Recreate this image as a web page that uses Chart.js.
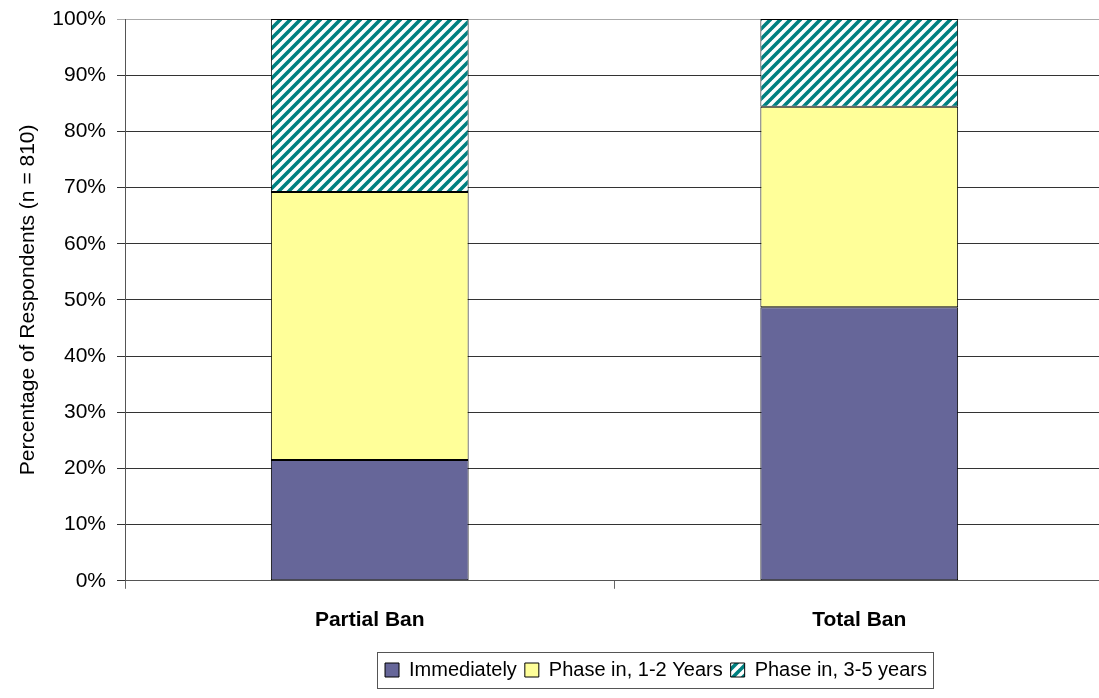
<!DOCTYPE html>
<html>
<head>
<meta charset="utf-8">
<script src="https://cdn.jsdelivr.net/npm/chart.js@4.4.1/dist/chart.umd.min.js"></script>
<style>
    body { margin: 0; background: #fff; overflow: hidden; }
    #wrap { width: 1099px; height: 698px; overflow: hidden; }
</style>
</head>
<body>
<div id="wrap"><canvas id="chart" width="1104" height="698"></canvas></div>
<script>
// Data (percent of respondents)
const categories = ['Partial Ban', 'Total Ban'];
const seriesNames = ['Immediately', 'Phase in, 1-2 Years', 'Phase in, 3-5 years'];
const immediately = [21.5, 48.7];
const phaseIn12 = [47.7, 35.7];
const phaseIn35 = [30.8, 15.6];
const yTickStep = 10;

const textFont = "'Liberation Sans', Arial, sans-serif";

function makeHatch() {
    const s = 10;
    const c = document.createElement('canvas');
    c.width = s;
    c.height = s;
    const g = c.getContext('2d');
    g.fillStyle = '#ffffff';
    g.fillRect(0, 0, s, s);
    g.strokeStyle = '#008080';
    g.lineWidth = 3.6;
    g.beginPath();
    g.moveTo(-1, s + 1); g.lineTo(s + 1, -1);
    g.moveTo(-1, 1); g.lineTo(1, -1);
    g.moveTo(s - 1, s + 1); g.lineTo(s + 1, s - 1);
    g.stroke();
    return g.createPattern(c, 'repeat');
}

// the legend sits right of centre in the original, and has a frame
const legendShift = 104;
const legendFrame = {
    id: 'legendFrame',
    afterUpdate(chart) {
        // runs after the built-in legend plugin has placed its hit boxes
        const lg = chart.legend;
        lg.left += legendShift;
        lg.right += legendShift;
        lg.legendHitBoxes.forEach(b => { b.left += legendShift; });
    },
    afterDraw(chart) {
        const boxes = chart.legend.legendHitBoxes;
        if (!boxes || !boxes.length) return;
        let x0 = Infinity, x1 = -Infinity, y0 = Infinity, y1 = -Infinity;
        boxes.forEach(b => {
            x0 = Math.min(x0, b.left);
            x1 = Math.max(x1, b.left + b.width);
            y0 = Math.min(y0, b.top);
            y1 = Math.max(y1, b.top + b.height);
        });
        const ctx = chart.ctx;
        ctx.save();
        ctx.strokeStyle = '#555';
        ctx.lineWidth = 1;
        ctx.strokeRect(Math.round(x0 - 8) + 0.5, Math.round(y0 - 8) + 0.5, Math.round(x1 - x0 + 14), Math.round(y1 - y0 + 16));
        ctx.restore();
    }
};

const ctx = document.getElementById('chart').getContext('2d');
const hatch = makeHatch();

new Chart(ctx, {
    type: 'bar',
    data: {
        labels: categories,
        datasets: [{
            label: seriesNames[0],
            data: immediately,
            backgroundColor: '#666699'
        }, {
            label: seriesNames[1],
            data: phaseIn12,
            backgroundColor: '#FFFF99'
        }, {
            label: seriesNames[2],
            data: phaseIn35,
            backgroundColor: hatch
        }].map(ds => Object.assign(ds, {
            borderColor: '#000',
            borderWidth: 1,
            borderSkipped: false,
            categoryPercentage: 1,
            barPercentage: 0.404
        }))
    },
    options: {
        responsive: false,
        animation: false,
        layout: {
            padding: { top: 19, right: 0, bottom: 8, left: 0 }
        },
        plugins: {
            tooltip: { enabled: false },
            legend: {
                position: 'bottom',
                labels: {
                    color: '#000',
                    font: { family: textFont, size: 20 },
                    boxWidth: 14,
                    boxHeight: 14,
                    padding: 8
                }
            }
        },
        scales: {
            x: {
                stacked: true,
                grid: {
                    offset: true,
                    drawOnChartArea: false,
                    color: '#666',
                    tickLength: 8
                },
                border: { color: '#555' },
                ticks: {
                    color: '#000',
                    padding: 19,
                    font: { family: textFont, size: 21, weight: 'bold' }
                }
            },
            y: {
                stacked: true,
                min: 0,
                max: 100,
                afterFit(scale) {
                    scale.width = 125;
                    scale.paddingTop = 0;
                    scale.paddingBottom = 0;
                },
                grid: {
                    color: c => c.tick && c.tick.value === 100 ? '#aaa' : '#333',
                    tickLength: 8
                },
                border: { color: '#555', width: 1 },
                ticks: {
                    stepSize: yTickStep,
                    color: '#000',
                    padding: 11,
                    font: { family: textFont, size: 21, lineHeight: 1 },
                    callback: v => v + '%'
                },
                title: {
                    display: true,
                    text: 'Percentage of Respondents (n = 810)',
                    color: '#000',
                    font: { family: textFont, size: 21 },
                    padding: { top: 16, bottom: 0 }
                }
            }
        }
    },
    plugins: [legendFrame]
});
</script>
</body>
</html>
